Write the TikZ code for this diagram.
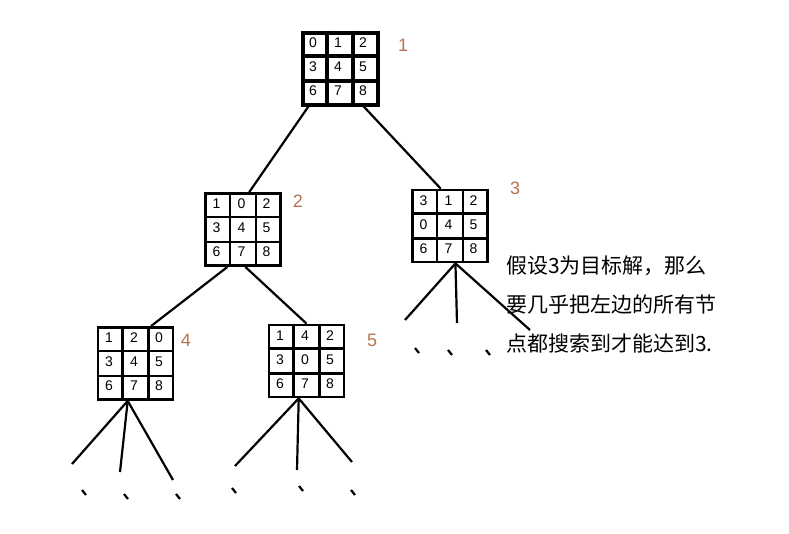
\documentclass[tikz,border=0pt]{standalone}
\usepackage{fontspec}
\newfontfamily\cjk{Noto Sans CJK SC}
\setmainfont{Liberation Sans}
\definecolor{lblbrown}{HTML}{B5734A}
\tikzset{
  board/.style={draw, line width=2.5pt, minimum width=75pt, minimum height=72pt, inner sep=0pt},
  cellnum/.style={font=\fontsize{14}{14}\selectfont},
  lbl/.style={text=lblbrown, font=\fontsize{18}{18}\selectfont},
  edge/.style={line width=2.2pt},
}
% puzzle board: name, x, y, list of nine numbers
\newcommand{\puzzleboard}[5][2.8pt]{%
  \node[board, line width=#1] (#2) at (#3,#4) {};
  \draw[line width=#1] ($(#2.north west)!1/3!(#2.north east)$) -- ($(#2.south west)!1/3!(#2.south east)$);
  \draw[line width=#1] ($(#2.north west)!2/3!(#2.north east)$) -- ($(#2.south west)!2/3!(#2.south east)$);
  \draw[line width=#1] ($(#2.north west)!1/3!(#2.south west)$) -- ($(#2.north east)!1/3!(#2.south east)$);
  \draw[line width=#1] ($(#2.north west)!2/3!(#2.south west)$) -- ($(#2.north east)!2/3!(#2.south east)$);
  \foreach \v [count=\i from 0] in {#5} {
    \pgfmathsetmacro{\cx}{mod(\i,3)}
    \pgfmathsetmacro{\cy}{int(\i/3)}
    \node[cellnum] at ($(#2.north west)+(12.5+25*\cx,12+24*\cy)$) {\v};
  }%
}
\usetikzlibrary{calc}
\begin{document}
\begin{tikzpicture}[x=1pt,y=-1pt]
    \useasboundingbox (0,0) rectangle (789,533);
    \puzzleboard[4pt]{s1}{340}{68.5}{0,1,2,3,4,5,6,7,8}
    \puzzleboard{s2}{243}{229.5}{1,0,2,3,4,5,6,7,8}
    \puzzleboard{s3}{450}{226}{3,1,2,0,4,5,6,7,8}
    \puzzleboard{s4}{135.5}{363.5}{1,2,0,3,4,5,6,7,8}
    \puzzleboard{s5}{306.5}{361}{1,4,2,3,0,5,6,7,8}
    \node[lbl] (l1) at (403,45) {1};
    \node[lbl] (l2) at (298,201) {2};
    \node[lbl] (l3) at (515,188) {3};
    \node[lbl] (l4) at (186,340) {4};
    \node[lbl] (l5) at (372,340) {5};
    % tree edges
    \draw[edge] ($(s1.south west)!0.1!(s1.south east)$) -- ($(s2.north west)!0.58!(s2.north east)$);
    \draw[edge] ($(s1.south west)!0.8!(s1.south east)$) -- ($(s3.north west)!0.38!(s3.north east)$);
    \draw[edge] ($(s2.south west)!0.3!(s2.south east)$) -- ($(s4.north west)!0.7!(s4.north east)$);
    \draw[edge] ($(s2.south west)!0.53!(s2.south east)$) -- ($(s5.north west)!0.5!(s5.north east)$);
    % unexplored children
    \coordinate (b3) at ($(s3.south west)!0.57!(s3.south east)$);
    \coordinate (b4) at ($(s4.south west)!0.4!(s4.south east)$);
    \coordinate (b5) at ($(s5.south west)!0.4!(s5.south east)$);
    \foreach \ex/\ey in {405/320, 457/323, 530/330} \draw[edge] (b3) -- (\ex,\ey);
    \foreach \ex/\ey in {72/464, 120/472, 173/480} \draw[edge] (b4) -- (\ex,\ey);
    \foreach \ex/\ey in {235/466, 297/470, 352/462} \draw[edge] (b5) -- (\ex,\ey);
    \foreach \dx/\dy in {415/348, 448/350, 486/350, 82/490, 124/494, 176/494, 232/488, 299/486, 351/490}
        \draw[edge] (\dx,\dy) -- ++(4,5);
    \node[font=\cjk\fontsize{21}{39}\selectfont, align=left, anchor=north west, inner sep=0pt] (note) at (506,256)
        {假设3为目标解，那么\\要几乎把左边的所有节\\点都搜索到才能达到3.};
\end{tikzpicture}
\end{document}
